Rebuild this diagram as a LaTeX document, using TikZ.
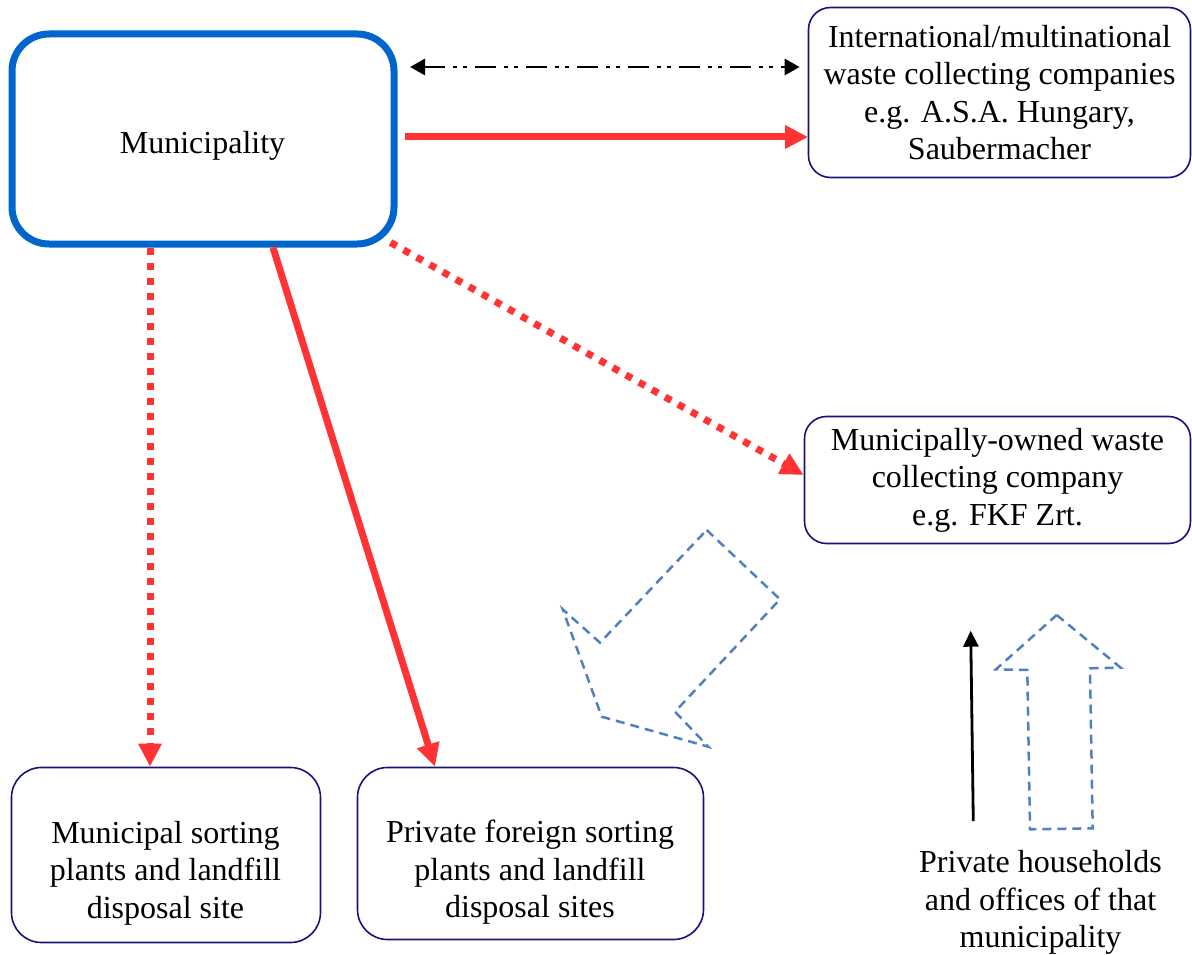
\documentclass[tikz,border=0pt]{standalone}
\usepackage{fontspec}
\setmainfont{Liberation Serif}
\usetikzlibrary{arrows.meta}
\definecolor{flowred}{RGB}{255,51,51}
\definecolor{munblue}{RGB}{0,102,204}
\definecolor{boxnavy}{RGB}{20,20,120}
\definecolor{outlineblue}{RGB}{79,129,189}
\begin{document}
\begin{tikzpicture}[x=1pt,y=-1pt,
  every node/.style={inner sep=0pt},
  txt/.style={font=\fontsize{32}{37.5}\selectfont, align=center},
  munbox/.style={rectangle, draw=munblue, line width=7pt, rounded corners=37pt},
  orgbox/.style={rectangle, draw=boxnavy, line width=1.6pt, rounded corners=#1},
  orgbox/.default=22pt,
  redflow/.style={draw=flowred, line width=7pt, -{Triangle[length=23pt,width=22pt]}},
  reddotted/.style={redflow, dash pattern=on 7pt off 8pt},
  liaison/.style={draw=black, line width=2.8pt,
    dash pattern=on 21pt off 8pt on 4pt off 6pt on 4pt off 8pt,
    {Triangle[length=15pt,width=16pt]}-{Triangle[length=15pt,width=16pt]}},
  blockarrow/.style={draw=outlineblue, line width=2.5pt, dash pattern=on 9pt off 6pt, line join=miter},
  upflow/.style={draw=black, line width=2.8pt, -{Triangle[length=16pt,width=15pt]}}
]
\useasboundingbox (0,0) rectangle (1192,955);

% boxes
\node[munbox, minimum width=382pt, minimum height=210pt] (mun) at (203,139) {};
\node[orgbox, minimum width=382pt, minimum height=170pt] (intl) at (999.5,92.5) {};
\node[orgbox, minimum width=386pt, minimum height=127pt] (mown) at (997.5,480) {};
\node[orgbox=30pt, minimum width=309pt, minimum height=175pt] (msort) at (166,855) {};
\node[orgbox=30pt, minimum width=346pt, minimum height=172pt] (pf) at (530.5,853.5) {};

% texts
\node[txt] (muntext) at (202.5,145.5) {Municipality};
\node[txt] (intltext) at (intl.center) {International/multinational\\waste collecting companies\\e.g. A.S.A. Hungary,\\Saubermacher};
\node[txt] (mowntext) at (mown.center) {Municipally-owned waste\\collecting company\\e.g. FKF Zrt.};
\node[txt] (msorttext) at (165.5,873) {Municipal sorting\\plants and landfill\\disposal site};
\node[txt] (pftext) at (530,872.5) {Private foreign sorting\\plants and landfill\\disposal sites};
\node[txt] (hh) at (1040.5,902.5) {Private households\\and offices of that\\municipality};

% connectors
\draw[liaison] ([shift={(12.5,-72)}]mun.east) -- ([shift={(-8,-25.5)}]intl.west);
\draw[redflow] ([shift={(7.5,-2)}]mun.east) -- ([shift={(0.5,44.5)}]intl.west);
\draw[reddotted] ([shift={(-7,-5)}]mun.south east) -- ([shift={(0,-5)}]mown.west);
\coordinate (vtip) at ([xshift=-16pt]msort.north);
\draw[reddotted] (mun.south -| vtip) -- (vtip);
\draw[redflow] ([xshift=70pt]mun.south) -- ([xshift=-95.5pt]pf.north);

% block arrows
\draw[blockarrow] (706.7,530) -- (780,599.3) -- (675,711.7) -- (708.3,746.7)
  -- (601.7,716.7) -- (562.7,609.3) -- (600,642.7) -- cycle;
\draw[blockarrow] (1056.7,615) -- (1120.7,667.7) -- (1090,668.3) -- (1092.7,828.3)
  -- (1030,829.3) -- (1027.3,670) -- (996,669.3) -- cycle;

% upward flow from households
\coordinate (hhfoot) at (973.3,821);
\coordinate (hhtip) at (970.7,630.7);
\draw[upflow] (hhfoot) -- (hhtip);
\end{tikzpicture}
\end{document}
